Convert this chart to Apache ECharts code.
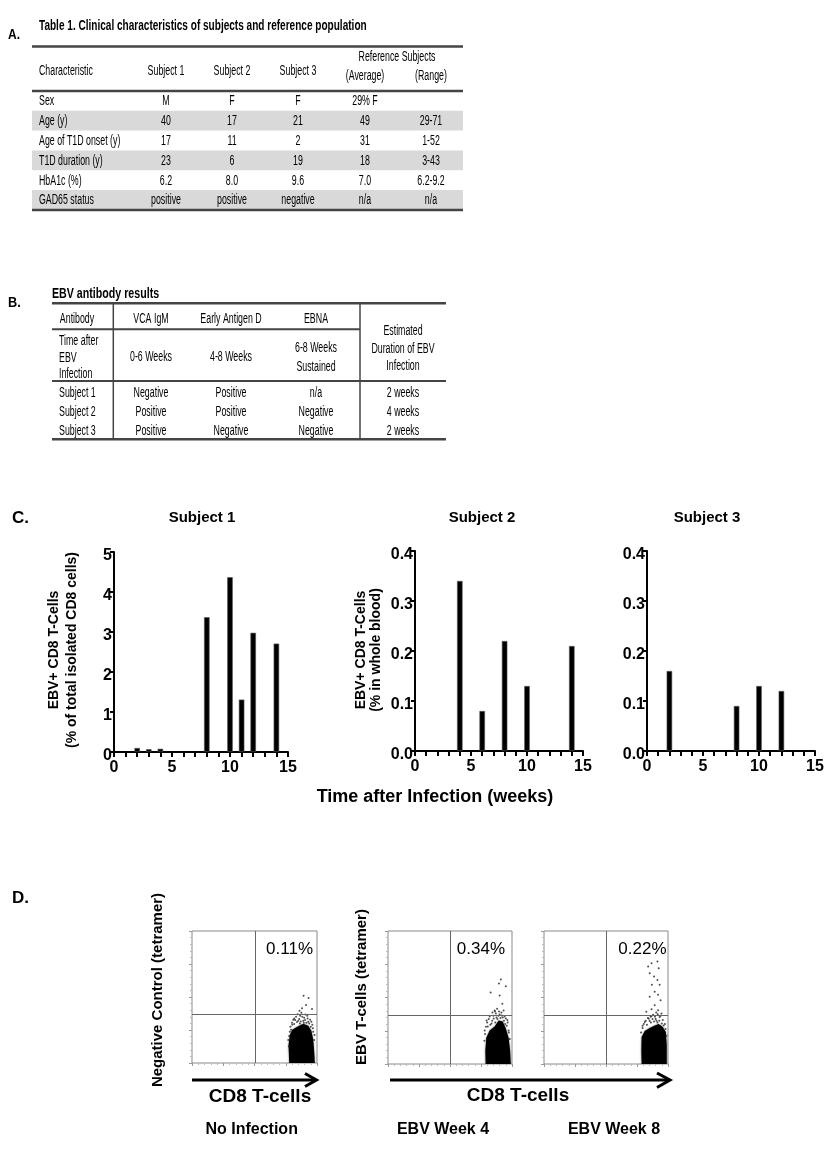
<!DOCTYPE html>
<html>
<head>
<meta charset="utf-8">
<script src="https://cdn.jsdelivr.net/npm/echarts@6/dist/echarts.min.js"></script>
<style>html,body{margin:0;padding:0;background:#fff}#c{width:840px;height:1155px}</style>
</head>
<body>
<div id="c"></div>
<script>
// ---------- Panel A data ----------
const tableATitle = 'Table 1. Clinical characteristics of subjects and reference population';
const tableAHeader = ['Characteristic', 'Subject 1', 'Subject 2', 'Subject 3', '(Average)', '(Range)'];
const tableARefHeader = 'Reference Subjects';
const tableARowLabels = ['Sex', 'Age (y)', 'Age of T1D onset (y)', 'T1D duration (y)', 'HbA1c (%)', 'GAD65 status'];
const tableASubject1 = ['M', '40', '17', '23', '6.2', 'positive'];
const tableASubject2 = ['F', '17', '11', '6', '8.0', 'positive'];
const tableASubject3 = ['F', '21', '2', '19', '9.6', 'negative'];
const tableARefAverage = ['29% F', '49', '31', '18', '7.0', 'n/a'];
const tableARefRange = ['', '29-71', '1-52', '3-43', '6.2-9.2', 'n/a'];

// ---------- Panel B data ----------
const tableBTitle = 'EBV antibody results';
const tableBAntibodies = ['VCA IgM', 'Early Antigen D', 'EBNA'];
const tableBTimeAfter = ['0-6 Weeks', '4-8 Weeks', '6-8 Weeks\nSustained'];
const tableBSubjects = ['Subject 1', 'Subject 2', 'Subject 3'];
const tableBVcaIgM = ['Negative', 'Positive', 'Positive'];
const tableBEarlyAntigenD = ['Positive', 'Positive', 'Negative'];
const tableBEbna = ['n/a', 'Negative', 'Negative'];
const tableBDuration = ['2 weeks', '4 weeks', '2 weeks'];

// ---------- Panel C data ----------
const barTitles = ['Subject 1', 'Subject 2', 'Subject 3'];
const s1Weeks = [2, 3, 4, 8, 10, 11, 12, 14];
const s1Values = [0.10, 0.07, 0.08, 3.37, 4.37, 1.31, 2.98, 2.71];
const s2Weeks = [4, 6, 8, 10, 14];
const s2Values = [0.34, 0.08, 0.22, 0.13, 0.21];
const s3Weeks = [2, 8, 10, 12];
const s3Values = [0.16, 0.09, 0.13, 0.12];
const barYNames = ['EBV+ CD8 T-Cells\n(% of total isolated CD8 cells)', 'EBV+ CD8 T-Cells\n(% in whole blood)'];
const barXName = 'Time after Infection (weeks)';

// ---------- Panel D data (log10 decades) ----------
const flowTitles = ['No Infection', 'EBV Week 4', 'EBV Week 8'];
const flowPercents = ['0.11%', '0.34%', '0.22%'];
const flowYNames = ['Negative Control (tetramer)', 'EBV T-cells (tetramer)'];
const flowXName = 'CD8 T-cells';
const gateX = [2.02, 2.01, 2.02];
const gateY = [1.48, 1.48, 1.46];
const cloud1 = [[3.11,0],[3.09,0.55],[3.13,0.85],[3.21,1.01],[3.37,1.10],[3.56,1.19],[3.72,1.13],[3.82,0.98],[3.88,0.70],[3.91,0.34],[3.93,0]];
const sparse1 = [[3.57,2.04],[3.73,1.97],[3.65,1.76],[3.52,1.66],[3.84,1.64],[3.44,1.58],[3.24,1.31],[3.33,1.40],[3.46,1.43],[3.59,1.37],[3.69,1.43],[3.78,1.31],[3.21,1.16],[3.85,1.16],[3.40,1.28],[3.56,1.28],[3.72,1.25],[3.17,1.01],[3.88,0.95],[3.11,0.82],[3.91,0.70],[3.50,1.52],
  [3.15,1.10],[3.20,1.22],[3.27,1.18],[3.30,1.30],[3.36,1.24],[3.43,1.33],[3.48,1.26],[3.53,1.40],[3.62,1.30],[3.66,1.22],[3.70,1.35],[3.75,1.20],[3.80,1.10],[3.82,1.25],[3.87,1.05],[3.13,0.95],[3.38,1.48],[3.63,1.47],[3.45,1.20],[3.58,1.22],[3.27,1.35],[3.92,0.85],[3.08,0.70],[3.10,0.50]];
const cloud2 = [[3.15,0],[3.14,0.40],[3.17,0.79],[3.28,1.01],[3.44,1.13],[3.57,1.31],[3.70,1.28],[3.80,1.07],[3.89,0.79],[3.94,0.40],[3.96,0]];
const sparse2 = [[3.64,2.54],[3.58,2.42],[3.80,2.34],[3.31,2.15],[3.60,2.06],[3.69,1.81],[3.52,1.66],[3.44,1.61],[3.73,1.61],[3.18,1.31],[3.28,1.43],[3.41,1.37],[3.60,1.49],[3.76,1.43],[3.86,1.25],[3.22,1.13],[3.34,1.22],[3.50,1.40],[3.67,1.46],[3.89,1.01],[3.12,1.01],[3.37,1.55],[3.80,1.37],
  [3.16,1.12],[3.20,1.25],[3.25,1.35],[3.30,1.18],[3.36,1.30],[3.40,1.45],[3.46,1.25],[3.48,1.52],[3.53,1.35],[3.56,1.45],[3.63,1.38],[3.66,1.55],[3.70,1.40],[3.74,1.30],[3.78,1.20],[3.83,1.15],[3.85,1.32],[3.90,0.95],[3.93,0.75],[3.13,0.90],[3.11,0.70],[3.45,1.58],[3.58,1.58]];
const cloud3 = [[3.15,0],[3.14,0.42],[3.15,0.81],[3.25,0.99],[3.41,1.08],[3.54,1.14],[3.70,1.20],[3.83,1.11],[3.93,0.96],[3.96,0.57],[3.96,0]];
const sparse3 = [[3.66,3.08],[3.47,3.03],[3.70,2.88],[3.41,2.73],[3.55,2.63],[3.66,2.53],[3.48,2.38],[3.73,2.38],[3.57,2.17],[3.68,2.08],[3.41,2.02],[3.76,1.92],[3.57,1.77],[3.47,1.65],[3.68,1.62],[3.30,1.57],[3.79,1.52],[3.36,2.93],[3.35,1.38],[3.47,1.44],[3.60,1.35],[3.73,1.41],[3.83,1.32],[3.25,1.26],[3.41,1.29],[3.67,1.50],[3.90,1.20],[3.18,1.08],
  [3.18,1.15],[3.22,1.20],[3.28,1.30],[3.32,1.18],[3.38,1.36],[3.45,1.25],[3.50,1.35],[3.55,1.28],[3.58,1.42],[3.63,1.30],[3.66,1.25],[3.72,1.30],[3.76,1.45],[3.80,1.22],[3.86,1.16],[3.92,1.05],[3.95,0.85],[3.13,0.95],[3.52,1.48],[3.62,1.55],[3.44,1.42]];

// ---------- build ----------
const FF = '"Liberation Sans", Arial, Helvetica, sans-serif';
const SX = 0.63;
const TF = '14px ' + FF;
const els = [];
function txt(x, y, text, o) {
  o = o || {};
  return {
    type: 'text', x: x, y: y, scaleX: o.sx || 1, rotation: o.rot || 0, z: 10,
    style: { text: text, font: o.font || TF, fill: '#000', align: o.align || 'center', verticalAlign: 'middle', lineHeight: o.lh || undefined }
  };
}
function hline(x1, x2, y, w, c) {
  return { type: 'line', z: 5, shape: { x1: x1, y1: y, x2: x2, y2: y }, style: { stroke: c || '#333', lineWidth: w } };
}
function vline(x, y1, y2, w, c) {
  return { type: 'line', z: 5, shape: { x1: x, y1: y1, x2: x, y2: y2 }, style: { stroke: c || '#333', lineWidth: w } };
}

// Panel A
els.push(txt(8, 35, 'A.', { font: 'bold 15px ' + FF, align: 'left', sx: 0.8 }));
els.push(txt(39, 26, tableATitle, { font: 'bold 15px ' + FF, align: 'left', sx: 0.67 }));
const rowH = 19.8, rowTop0 = 91;
tableARowLabels.forEach((l, i) => {
  if (i % 2 === 1) els.push({ type: 'rect', z: 1, shape: { x: 32, y: rowTop0 + i * rowH, width: 431, height: rowH }, style: { fill: '#d9d9d9' } });
});
els.push(hline(32, 463, 46.5, 2.5, '#444'));
els.push(hline(32, 463, 91, 2.5, '#444'));
els.push(hline(32, 463, 210, 2.5, '#444'));
const colA = [166, 232, 298, 365, 431];
els.push(txt(397, 57, tableARefHeader, { sx: SX }));
els.push(txt(39, 71, tableAHeader[0], { sx: SX, align: 'left' }));
for (let k = 1; k <= 3; k++) els.push(txt(colA[k - 1], 71, tableAHeader[k], { sx: SX }));
els.push(txt(colA[3], 76, tableAHeader[4], { sx: SX }));
els.push(txt(colA[4], 76, tableAHeader[5], { sx: SX }));
const colsAData = [tableASubject1, tableASubject2, tableASubject3, tableARefAverage, tableARefRange];
tableARowLabels.forEach((l, i) => {
  const y = rowTop0 + i * rowH + 10.5;
  els.push(txt(39, y, l, { sx: SX, align: 'left' }));
  colsAData.forEach((arr, k) => { if (arr[i]) els.push(txt(colA[k], y, arr[i], { sx: SX })); });
});

// Panel B
els.push(txt(8, 303, 'B.', { font: 'bold 15px ' + FF, align: 'left', sx: 0.85 }));
els.push(txt(52, 294, tableBTitle, { font: 'bold 15px ' + FF, align: 'left', sx: 0.71 }));
els.push(hline(52, 446, 303.3, 2.5, '#444'));
els.push(hline(52, 360, 329.3, 2, '#444'));
els.push(hline(52, 446, 381, 2, '#444'));
els.push(hline(52, 446, 439.3, 2.5, '#444'));
els.push(vline(113.3, 303, 439.5, 1.5, '#444'));
els.push(vline(360, 303, 439.5, 1.5, '#444'));
const colB = [151, 231, 316, 403];
els.push(txt(77, 319.3, 'Antibody', { sx: SX }));
tableBAntibodies.forEach((a, k) => els.push(txt(colB[k], 319.3, a, { sx: SX })));
els.push(txt(59, 341, 'Time after', { sx: SX, align: 'left' }));
els.push(txt(59, 357.7, 'EBV', { sx: SX, align: 'left' }));
els.push(txt(59, 374, 'Infection', { sx: SX, align: 'left' }));
tableBTimeAfter.forEach((t, k) => els.push(txt(colB[k], 357.5, t, { sx: SX, lh: 18.5 })));
els.push(txt(colB[3], 349, 'Estimated\nDuration of EBV\nInfection', { sx: SX, lh: 17.5 }));
const colsBData = [tableBVcaIgM, tableBEarlyAntigenD, tableBEbna, tableBDuration];
const rowBY = [392.7, 411.7, 431];
tableBSubjects.forEach((s, i) => {
  els.push(txt(59, rowBY[i], s, { sx: SX, align: 'left' }));
  colsBData.forEach((arr, k) => els.push(txt(colB[k], rowBY[i], arr[i], { sx: SX })));
});

// Panel C texts
els.push(txt(12, 518, 'C.', { font: 'bold 17px ' + FF, align: 'left' }));
[202, 482, 707].forEach((x, i) => els.push(txt(x, 518, barTitles[i], { font: 'bold 15px ' + FF })));
els.push(txt(63, 650, barYNames[0], { font: 'bold 14px ' + FF, rot: Math.PI / 2, lh: 18 }));
els.push(txt(368.5, 650, barYNames[1], { font: 'bold 14px ' + FF, rot: Math.PI / 2, lh: 15 }));
els.push(txt(435, 797, barXName, { font: 'bold 18px ' + FF }));

// Panel D texts
els.push(txt(12, 898, 'D.', { font: 'bold 17px ' + FF, align: 'left' }));
els.push(txt(158, 990, flowYNames[0], { font: 'bold 15px ' + FF, rot: Math.PI / 2 }));
els.push(txt(361.7, 987, flowYNames[1], { font: 'bold 15px ' + FF, rot: Math.PI / 2 }));
[313, 505, 666.5].forEach((x, i) => els.push(txt(x, 949.5, flowPercents[i], { font: '17px ' + FF, align: 'right' })));
[251.7, 443, 614].forEach((x, i) => els.push(txt(x, 1130, flowTitles[i], { font: 'bold 16px ' + FF })));
els.push(txt(260, 1097, flowXName, { font: 'bold 19px ' + FF }));
els.push(txt(518, 1096, flowXName, { font: 'bold 19px ' + FF }));
// arrows
els.push({ type: 'line', z: 5, shape: { x1: 192, y1: 1080, x2: 315, y2: 1080 }, style: { stroke: '#000', lineWidth: 3 } });
els.push({ type: 'polyline', z: 5, shape: { points: [[305, 1073.5], [316.5, 1080], [305, 1086.5]] }, style: { stroke: '#000', lineWidth: 3, fill: null } });
els.push({ type: 'line', z: 5, shape: { x1: 390, y1: 1080, x2: 669, y2: 1080 }, style: { stroke: '#000', lineWidth: 3 } });
els.push({ type: 'polyline', z: 5, shape: { points: [[657, 1073], [670, 1080], [657, 1087.5]] }, style: { stroke: '#000', lineWidth: 3, fill: null } });

// ---------- axes ----------
const grids = [
  { left: 114, top: 552, width: 174, height: 200 },
  { left: 415, top: 551, width: 168, height: 200 },
  { left: 647, top: 551, width: 168, height: 200 },
  { left: 192, top: 931, width: 125, height: 132, show: true, borderColor: '#8a8a8a', borderWidth: 1 },
  { left: 388, top: 931, width: 124, height: 133, show: true, borderColor: '#8a8a8a', borderWidth: 1 },
  { left: 544, top: 931, width: 124, height: 133, show: true, borderColor: '#8a8a8a', borderWidth: 1 }
];
const lblFont = { color: '#000', fontSize: 16, fontWeight: 'bold', fontFamily: FF };
function barX(gi) {
  return {
    gridIndex: gi, type: 'value', min: 0, max: 15, interval: 5,
    axisLine: { show: true, onZero: false, lineStyle: { color: '#000', width: 2 } },
    axisTick: { show: true, length: 5, lineStyle: { color: '#000', width: 2 } },
    minorTick: { show: true, splitNumber: 5, length: 5, lineStyle: { color: '#000', width: 2 } },
    splitLine: { show: false }, minorSplitLine: { show: false },
    axisLabel: Object.assign({ margin: 8 }, lblFont)
  };
}
function barY(gi, max, interval, dec) {
  return {
    gridIndex: gi, type: 'value', min: 0, max: max, interval: interval,
    axisLine: { show: true, onZero: false, lineStyle: { color: '#000', width: 2 } },
    axisTick: { show: true, length: 4, lineStyle: { color: '#000', width: 2 } },
    splitLine: { show: false },
    axisLabel: Object.assign({ margin: 2, verticalAlign: 'top', lineHeight: 8, formatter: v => v.toFixed(dec) }, lblFont)
  };
}
function flowAxis(gi) {
  return {
    gridIndex: gi, type: 'value', min: 0, max: 4, interval: 1,
    axisLine: { show: false }, axisLabel: { show: false }, splitLine: { show: false },
    axisTick: { show: true, length: 3, lineStyle: { color: '#999' } },
    minorTick: { show: true, splitNumber: 5, length: 2, lineStyle: { color: '#bbb' } }
  };
}
const xAxes = [barX(0), barX(1), barX(2), flowAxis(3), flowAxis(4), flowAxis(5)];
const yAxes = [barY(0, 5, 1, 0), barY(1, 0.4, 0.1, 1), barY(2, 0.4, 0.1, 1), flowAxis(3), flowAxis(4), flowAxis(5)];

function barSeries(i, weeks, vals) {
  return {
    type: 'bar', xAxisIndex: i, yAxisIndex: i, barWidth: 5.5, silent: true,
    data: weeks.map((w, k) => [w, vals[k]]),
    itemStyle: { color: '#000', borderColor: '#555', borderWidth: 0.6 }
  };
}
function cloudSeries(i, outline) {
  return {
    type: 'custom', xAxisIndex: i, yAxisIndex: i, silent: true, clip: true,
    data: [[outline[0][0], outline[0][1]]],
    renderItem: (params, api) => ({
      type: 'polygon',
      shape: { points: outline.map(p => api.coord(p)) },
      style: { fill: '#000', shadowBlur: 2, shadowColor: 'rgba(0,0,0,0.6)' }
    })
  };
}
function sparseSeries(i, pts, gi) {
  return {
    type: 'scatter', xAxisIndex: i, yAxisIndex: i, silent: true, symbolSize: 2,
    data: pts, itemStyle: { color: '#222' },
    markLine: {
      silent: true, symbol: 'none', label: { show: false },
      lineStyle: { color: '#666', width: 1, type: 'solid' },
      data: [{ xAxis: gateX[gi] }, { yAxis: gateY[gi] }]
    }
  };
}

const chart = echarts.init(document.getElementById('c'), null, { renderer: 'canvas' });
chart.setOption({
  backgroundColor: '#fff',
  animation: false,
  grid: grids,
  xAxis: xAxes,
  yAxis: yAxes,
  series: [
    barSeries(0, s1Weeks, s1Values),
    barSeries(1, s2Weeks, s2Values),
    barSeries(2, s3Weeks, s3Values),
    cloudSeries(3, cloud1), sparseSeries(3, sparse1, 0),
    cloudSeries(4, cloud2), sparseSeries(4, sparse2, 1),
    cloudSeries(5, cloud3), sparseSeries(5, sparse3, 2)
  ],
  graphic: { elements: els }
});
</script>
</body>
</html>
